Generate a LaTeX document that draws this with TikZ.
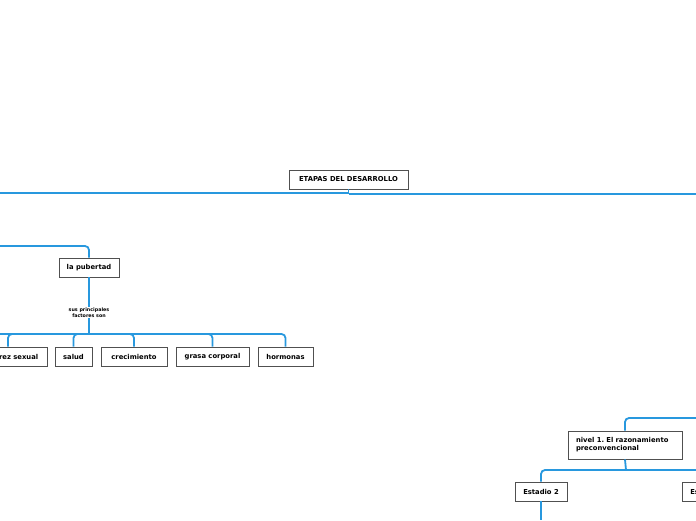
\documentclass[tikz,border=0pt]{standalone}
\usepackage{fontspec}
\setmainfont{DejaVu Sans}
\frenchspacing
\definecolor{linkblue}{RGB}{40,152,222}
\definecolor{boxgray}{RGB}{80,80,80}
\begin{document}
\begin{tikzpicture}[x=1pt,y=1pt,
  box/.style={draw=boxgray, line width=0.9pt, fill=white, inner sep=0pt,
    minimum height=19, font=\fontsize{6.8}{8}\selectfont\bfseries, text=black},
  link/.style={draw=linkblue, line width=1.8pt, rounded corners=4pt}]
\useasboundingbox (0,0) rectangle (696,-520);
% nodes
\node[box, minimum width=119] (top) at (348.5,-179.5) {ETAPAS DEL DESARROLLO};
\node[box, minimum width=60] (pub) at (89,-267.5) {la pubertad};
\node[font=\fontsize{4.8}{5.6}\selectfont\bfseries, align=center, inner sep=1pt] (lab) at (89,-312.5) {sus principales\\factores son};
\node[box, minimum width=78] (ms) at (8,-356.5) {madurez sexual};
\node[box, minimum width=37] (sal) at (73.5,-356.5) {salud};
\node[box, minimum width=66] (cre) at (134,-356.5) {crecimiento};
\node[box, minimum width=73] (gra) at (212.5,-356.5) {grasa corporal};
\node[box, minimum width=55] (hor) at (285.5,-356.5) {hormonas};
\node[box, minimum width=114, minimum height=28, align=left, text width=98] (n1) at (625,-445) {nivel 1. El razonamiento\\preconvencional};
\node[box, minimum width=52] (e2) at (541,-491.5) {Estadio 2};
\node[box, minimum width=52] (e1) at (708,-491.5) {Estadio 1};
% coordinates
\coordinate (hl) at (0,-193.3);
\coordinate (hm) at (348.5,-193.3);
\coordinate (hm2) at (348.5,-194.2);
\coordinate (hr) at (696,-194.2);
\coordinate (pl) at (0,-246);
\coordinate (bus) at (89,-334);
\coordinate (busl) at (0,-334);
\coordinate (nr) at (696,-418);
\coordinate (nb) at (626,-470);
\coordinate (eb) at (541,-520);
% connectors
\draw[link] (top.south) -- (hm2);
\draw[link] (hl) -- (hm);
\draw[link] (hm2) -- (hr);
\draw[link] (pl) -| (pub.north);
\draw[link] (pub.south) -- (lab.north);
\draw[link] (lab.south) -- (bus);
\draw[link] (busl) -- (bus);
\draw[link] (bus) -| (ms.north);
\draw[link] (bus) -| (sal.north);
\draw[link] (bus) -| (cre.north);
\draw[link] (bus) -| (gra.north);
\draw[link] (bus) -| (hor.north);
\draw[link] (nr) -| (n1.north);
\draw[link] (n1.south) -- (nb);
\draw[link] (nb) -| (e2.north);
\draw[link] (nb) -| (e1.north);
\draw[link] (e2.south) -- (eb);
\end{tikzpicture}
\end{document}
